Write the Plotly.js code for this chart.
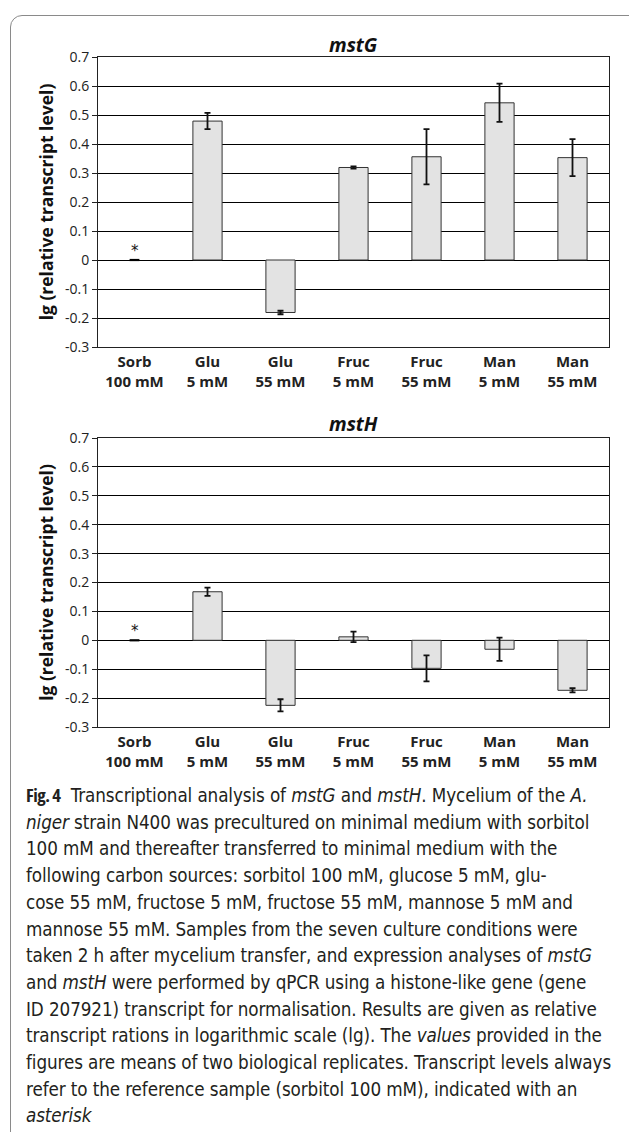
<!DOCTYPE html>
<html>
<head>
<meta charset="utf-8">
<script src="https://cdn.plot.ly/plotly-3.0.1.min.js"></script>
<style>
  html, body { margin:0; padding:0; background:#fff; }
  body { width:629px; height:1132px; position:relative; overflow:hidden; }
  #frame { position:absolute; left:10px; top:15px; width:700px; height:1200px;
           border:1.5px solid #8a8a8a; border-radius:12px; box-sizing:border-box; }
  #plot { position:absolute; left:0; top:0; width:629px; height:1132px; }
  #caption { position:absolute; left:26px; top:782px; width:600px;
             font-family:"Liberation Sans Narrow","DejaVu Sans Condensed","Open Sans",sans-serif;
             font-stretch:condensed; font-size:18.7px; line-height:26.7px; color:#231f20;
             white-space:nowrap; letter-spacing:-0.1px; }
  #caption b { font-family:"Open Sans","DejaVu Sans",sans-serif; font-weight:700; font-size:18.5px; letter-spacing:-0.5px; }
</style>
</head>
<body>
<div id="frame"></div>
<div id="plot"></div>
<div id="caption">
<b>Fig. 4</b>&nbsp; Transcriptional analysis of <i>mstG</i> and <i>mstH</i>. Mycelium of the <i>A.</i><br>
<i>niger</i> strain N400 was precultured on minimal medium with sorbitol<br>
100 mM and thereafter transferred to minimal medium with the<br>
following carbon sources: sorbitol 100 mM, glucose 5 mM, glu-<br>
cose 55 mM, fructose 5 mM, fructose 55 mM, mannose 5 mM and<br>
mannose 55 mM. Samples from the seven culture conditions were<br>
taken 2 h after mycelium transfer, and expression analyses of <i>mstG</i><br>
and <i>mstH</i> were performed by qPCR using a histone-like gene (gene<br>
ID 207921) transcript for normalisation. Results are given as relative<br>
transcript rations in logarithmic scale (lg). The <i>values</i> provided in the<br>
figures are means of two biological replicates. Transcript levels always<br>
refer to the reference sample (sorbitol 100 mM), indicated with an<br>
<i>asterisk</i>
</div>
<script>
// ---- data ----
const categories = ["Sorb<br>100 mM", "Glu<br>5 mM", "Glu<br>55 mM", "Fruc<br>5 mM", "Fruc<br>55 mM", "Man<br>5 mM", "Man<br>55 mM"];
const mstG      = [null, 0.479, -0.181, 0.319, 0.356, 0.542, 0.353];
const mstG_err  = [null, 0.028, 0.006, 0.004, 0.095, 0.066, 0.064];
const mstH      = [null, 0.168, -0.225, 0.012, -0.097, -0.031, -0.173];
const mstH_err  = [null, 0.014, 0.021, 0.018, 0.045, 0.040, 0.007];
const referenceCategory = "Sorb<br>100 mM";
const referenceValue = 0;
const yTicks = [-0.3, -0.2, -0.1, 0, 0.1, 0.2, 0.3, 0.4, 0.5, 0.6, 0.7];
const yTickText = ["-0.3", "-0.2", "-0.1", "0", "0.1", "0.2", "0.3", "0.4", "0.5", "0.6", "0.7"];
const yTitle = "lg (relative transcript level)";

// ---- layout geometry ----
const W = 629, H = 1132;
const px2x = p => p / W;
const px2y = p => (H - p) / H;
const xDom = [px2x(98), px2x(609)];
const yDomTop = [px2y(347), px2y(57)];
const yDomBot = [px2y(727), px2y(438)];
const yRange = [-0.3, 0.7];
const zeroPos = d => d[0] + (0 - yRange[0]) / (yRange[1] - yRange[0]) * (d[1] - d[0]);

const barStyle = { color: "#e3e3e3", line: { color: "#333", width: 1 } };
const errStyle = (arr) => ({ type: "data", array: arr, visible: true, color: "#111", thickness: 1.8, width: 3 });

const traces = [
  { type: "bar", x: categories, y: mstG, error_y: errStyle(mstG_err), marker: barStyle, xaxis: "x", yaxis: "y", width: 0.4, hoverinfo: "y" },
  { type: "bar", x: categories, y: mstH, error_y: errStyle(mstH_err), marker: barStyle, xaxis: "x2", yaxis: "y2", width: 0.4, hoverinfo: "y" },
  { type: "scatter", mode: "markers", x: [referenceCategory], y: [referenceValue], xaxis: "x", yaxis: "y",
    marker: { symbol: "line-ew", size: 7, line: { color: "#000", width: 2.2 } }, hoverinfo: "skip", cliponaxis: false },
  { type: "scatter", mode: "markers", x: [referenceCategory], y: [referenceValue], xaxis: "x2", yaxis: "y2",
    marker: { symbol: "line-ew", size: 7, line: { color: "#000", width: 2.2 } }, hoverinfo: "skip", cliponaxis: false }
];

const tickFont = { family: "Open Sans, sans-serif", size: 14, color: "#222" };
const catFont = { family: "Open Sans, sans-serif", size: 15, color: "#222", weight: 700 };

function yAxis(dom, anchor) {
  return {
    domain: dom, anchor: anchor, range: yRange, tickvals: yTicks, ticktext: yTickText,
    showgrid: true, gridcolor: "#000", gridwidth: 1,
    zeroline: true, zerolinecolor: "#000", zerolinewidth: 1,
    showline: true, linecolor: "#222", linewidth: 1, mirror: true,
    ticks: "outside", ticklen: 5, tickcolor: "#222", tickfont: tickFont,
    title: { text: yTitle, font: { family: "Open Sans, sans-serif", size: 17.5, color: "#111", weight: 700 }, standoff: 6 },
    fixedrange: true, automargin: false
  };
}
function xAxis(anchor) {
  return {
    domain: xDom, anchor: anchor, type: "category", categoryorder: "array", categoryarray: categories,
    showgrid: false, zeroline: false, showline: true, linecolor: "#222", linewidth: 1, mirror: true,
    ticks: "", tickfont: catFont, ticklabelstandoff: 1, fixedrange: true, automargin: false
  };
}
function tickAxis(overlay, pos) {
  const n = categories.length;
  return {
    overlaying: overlay, anchor: "free", position: pos, domain: xDom,
    range: [-0.5, n - 0.5], tickvals: categories.slice(1).map((c, i) => i + 0.5),
    showticklabels: false, ticks: "outside", ticklen: 5, tickcolor: "#222", tickwidth: 1,
    showgrid: false, zeroline: false, showline: false, fixedrange: true
  };
}

const layout = {
  width: W, height: H, margin: { l: 0, r: 0, t: 0, b: 0 },
  paper_bgcolor: "rgba(0,0,0,0)", plot_bgcolor: "rgba(0,0,0,0)",
  showlegend: false, bargap: 0.6,
  xaxis: xAxis("y"), yaxis: yAxis(yDomTop, "x"),
  xaxis2: xAxis("y2"), yaxis2: yAxis(yDomBot, "x2"),
  xaxis3: tickAxis("x", zeroPos(yDomTop)),
  xaxis4: tickAxis("x2", zeroPos(yDomBot)),
  annotations: [
    { text: "mstG", xref: "paper", yref: "paper", x: (xDom[0] + xDom[1]) / 2, y: px2y(45), showarrow: false,
      font: { family: "Open Sans, sans-serif", size: 19.5, color: "#111", weight: 700, style: "italic" }, yanchor: "middle" },
    { text: "mstH", xref: "paper", yref: "paper", x: (xDom[0] + xDom[1]) / 2, y: px2y(423), showarrow: false,
      font: { family: "Open Sans, sans-serif", size: 19.5, color: "#111", weight: 700, style: "italic" }, yanchor: "middle" },
    { text: "*", xref: "x", yref: "y", x: referenceCategory, y: referenceValue, yshift: 9, showarrow: false,
      font: { family: "DejaVu Sans, sans-serif", size: 15, color: "#111" } },
    { text: "*", xref: "x2", yref: "y2", x: referenceCategory, y: referenceValue, yshift: 9, showarrow: false,
      font: { family: "DejaVu Sans, sans-serif", size: 15, color: "#111" } }
  ]
};

Plotly.newPlot("plot", traces, layout, { staticPlot: true, displayModeBar: false });
</script>
</body>
</html>
